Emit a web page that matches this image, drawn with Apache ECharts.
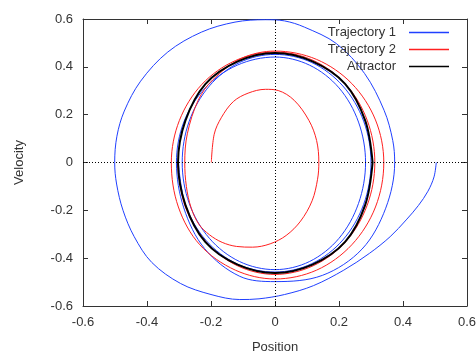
<!DOCTYPE html>
<html>
<head>
<meta charset="utf-8">
<script src="https://cdn.jsdelivr.net/npm/echarts@6/dist/echarts.min.js"></script>
<style>
html,body{margin:0;padding:0;background:#fff;}
#chart{width:476px;height:352px;}
</style>
</head>
<body>
<div id="chart"></div>
<script>
// Axis settings
const axisMin = -0.6, axisMax = 0.6, axisStep = 0.2;
const seriesNames = ['Trajectory 1', 'Trajectory 2', 'Attractor'];

// Trajectory 1 (blue): starts at (0.5, 0) and spirals in
const traj1 = [
  [0.504,0],[0.497,-0.06],[0.478,-0.12],[0.448,-0.18],[0.41,-0.24],[0.36,-0.31],[0.295,-0.38],
  [0.215,-0.45],[0.12,-0.515],[0.03,-0.552],[-0.05,-0.57],[-0.11,-0.573],[-0.2,-0.552],
  [-0.295,-0.506],[-0.385,-0.418],[-0.44,-0.31],[-0.475,-0.2],[-0.495,-0.09],[-0.501,0],
  [-0.494,0.11],[-0.471,0.215],[-0.42,0.34],[-0.335,0.462],[-0.23,0.545],[-0.125,0.587],
  [-0.03,0.597],[0.03,0.592],[0.092,0.566],[0.192,0.497],[0.28,0.372],[0.341,0.218],[0.368,0.092],
  [0.374,0],
  [0.346,-0.191],[0.272,-0.362],[0.148,-0.472],[0,-0.498],
  [-0.11,-0.476],[-0.22,-0.36],[-0.285,-0.19],[-0.308,0],
  [-0.285,0.169],[-0.218,0.312],[-0.118,0.407],[0,0.441],
  [0.108,0.407],[0.2,0.312],[0.261,0.169],[0.283,0],
  [0.261,-0.171],[0.2,-0.317],[0.108,-0.414],[0,-0.448],
  [-0.111,-0.414],[-0.205,-0.317],[-0.268,-0.171],[-0.29,0],
  [-0.268,0.173],[-0.205,0.32],[-0.111,0.418],[0,0.452],
  [0.115,0.418],[0.212,0.32],[0.277,0.173],[0.30,0],
  [0.277,-0.175],[0.212,-0.324],[0.115,-0.423],[0,-0.458],
  [-0.117,-0.425],[-0.216,-0.325],[-0.28,-0.176],[-0.302,0]
];

// Trajectory 2 (red): starts at (-0.2, 0) and spirals out
const traj2 = [
  [-0.199,0],[-0.19,0.118],[-0.168,0.187],[-0.13,0.255],[-0.084,0.29],[-0.03,0.306],
  [0.01,0.301],[0.06,0.26],[0.106,0.176],[0.13,0.092],[0.137,0],
  [0.133,-0.07],[0.116,-0.16],[0.08,-0.245],[0.035,-0.305],[-0.015,-0.34],[-0.07,-0.354],
  [-0.12,-0.351],[-0.165,-0.334],[-0.205,-0.302],[-0.238,-0.258],[-0.262,-0.19],[-0.277,-0.1],[-0.282,0],
  [-0.274,0.12],[-0.24,0.26],[-0.195,0.345],[-0.105,0.435],[0,0.466],
  [0.13,0.431],[0.24,0.33],[0.314,0.178],[0.34,0],
  [0.314,-0.186],[0.24,-0.344],[0.13,-0.45],[0,-0.487],
  [-0.124,-0.45],[-0.235,-0.344],[-0.302,-0.186],[-0.324,0],
  [-0.299,0.175],[-0.229,0.326],[-0.124,0.426],[0,0.462],
  [0.119,0.427],[0.221,0.327],[0.288,0.177],[0.312,0],
  [0.288,-0.179],[0.221,-0.331],[0.119,-0.432],[0,-0.468],
  [-0.117,-0.432],[-0.216,-0.331],[-0.282,-0.179],[-0.305,0]
];

// Attractor (black limit cycle)
const attractor = [
  [0.305,0],[0.282,-0.177],[0.219,-0.332],[0.117,-0.427],[0,-0.462],[-0.117,-0.427],
  [-0.218,-0.332],[-0.28,-0.177],[-0.303,0],[-0.28,0.175],[-0.217,0.329],[-0.116,0.423],
  [0,0.458],[0.117,0.423],[0.219,0.329],[0.282,0.175],[0.305,0]
];

const chart = echarts.init(document.getElementById('chart'), null, {renderer: 'canvas'});
const font = 'Liberation Sans, Arial, sans-serif';
const txt = '#333';

function valueAxis(extra) {
  return Object.assign({
    type: 'value', min: axisMin, max: axisMax, interval: axisStep,
    axisLine: {show: true, onZero: false, lineStyle: {color: '#333', width: 1}},
    axisTick: {show: true, inside: true, length: 5, lineStyle: {color: '#333'}},
    splitLine: {show: false},
    axisLabel: {color: txt, fontFamily: font, fontSize: 13},
    nameTextStyle: {color: txt, fontFamily: font, fontSize: 13}
  }, extra);
}

const lineSeries = (name, data, color, width, z) => ({
  name, type: 'line', data, xAxisIndex: 0, yAxisIndex: 0,
  symbol: 'none', showSymbol: false, smooth: 0.34, z,
  lineStyle: {color, width}, itemStyle: {color}, animation: false
});

const s1 = lineSeries(seriesNames[0], traj1, '#2040ff', 1, 2);
const s2 = lineSeries(seriesNames[1], traj2, '#ff2020', 1, 3);
const s3 = lineSeries(seriesNames[2], attractor, '#000000', 2, 4);
s1.markLine = {
  silent: true, symbol: 'none', animation: false, label: {show: false},
  lineStyle: {color: '#000', type: [1, 2], width: 1},
  data: [{xAxis: 0}, {yAxis: 0}]
};

chart.setOption({
  backgroundColor: '#fff',
  animation: false,
  grid: {left: 83, right: 9, top: 19, bottom: 46, containLabel: false, outerBoundsMode: 'none'},
  legend: {
    data: seriesNames.map((n, i) => ({name: n, icon: 'rect',
      itemStyle: {color: ['#2040ff', '#ff2020', '#000'][i]}})),
    orient: 'vertical', right: 22, top: 21,
    align: 'right', itemWidth: 40, itemHeight: 1.5, itemGap: 4,
    textStyle: {color: txt, fontFamily: font, fontSize: 13, padding: [0, 8, 0, 0]},
    selectedMode: false
  },
  xAxis: [
    valueAxis({name: 'Position', nameLocation: 'middle', nameGap: 35,
      axisLabel: {color: txt, fontFamily: font, fontSize: 13, margin: 10}}),
    valueAxis({position: 'top', axisLabel: {show: false}})
  ],
  yAxis: [
    valueAxis({name: 'Velocity', nameLocation: 'middle', nameGap: 57,
      axisLabel: {color: txt, fontFamily: font, fontSize: 13, margin: 10}}),
    valueAxis({position: 'right', axisLabel: {show: false}})
  ],
  series: [s1, s2, s3]
});
</script>
</body>
</html>
